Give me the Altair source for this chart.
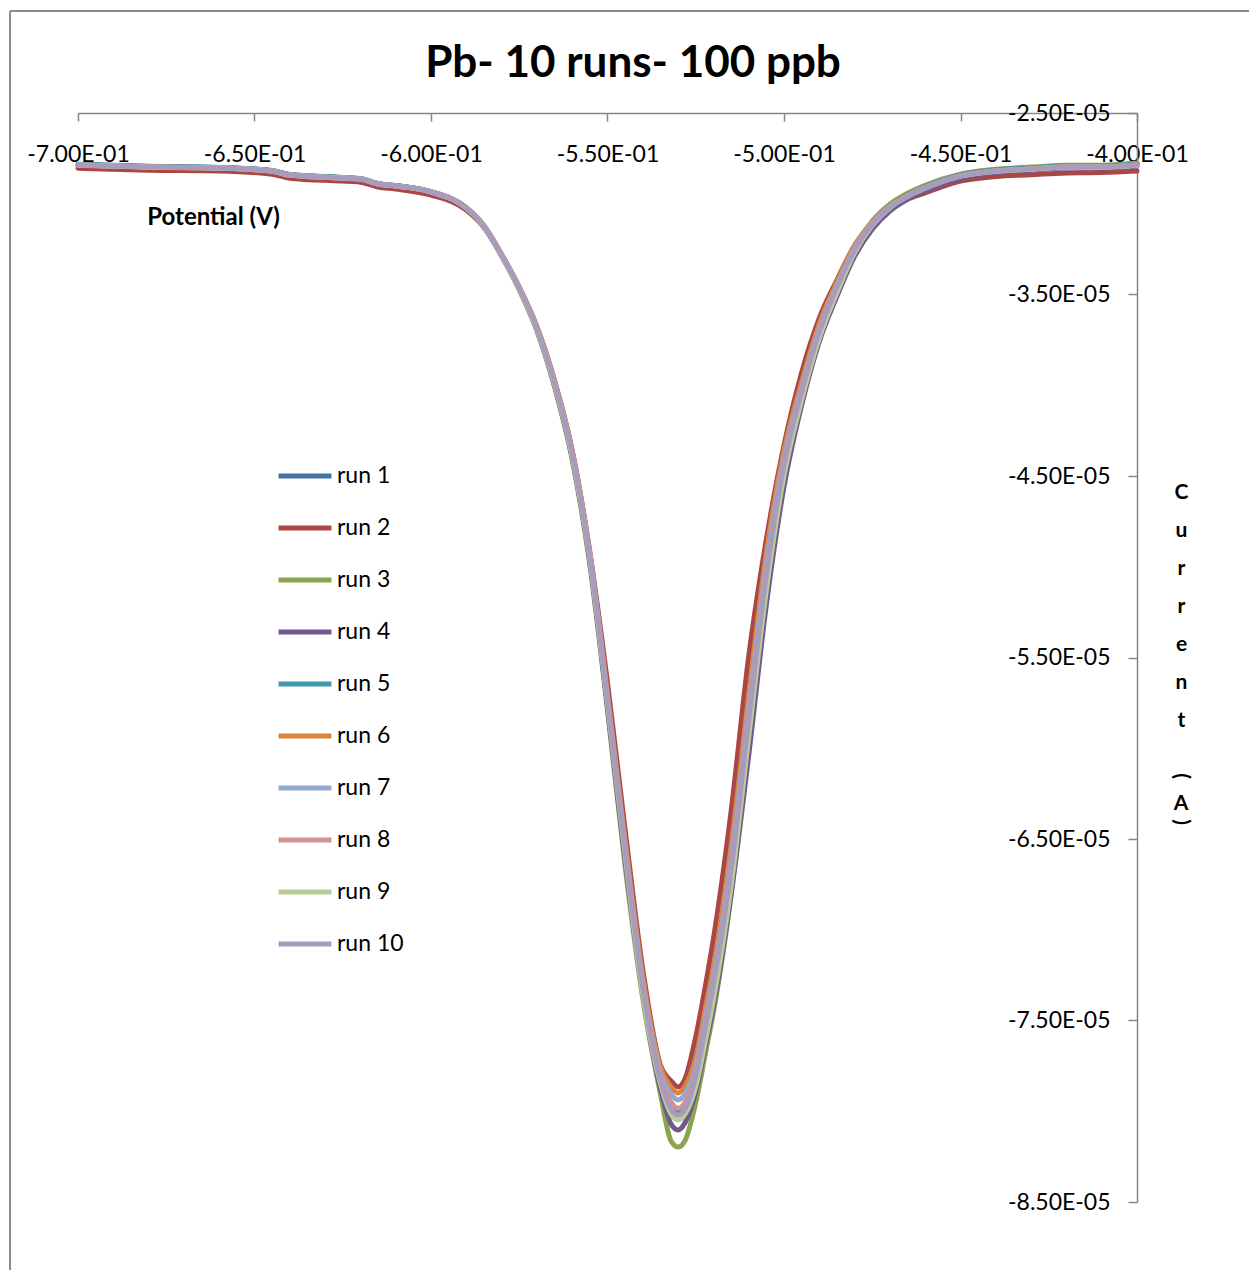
import altair as alt
import pandas as pd

# Potential sweep (V) shared by all runs
potential_v = [
    -0.700, -0.680, -0.660, -0.645, -0.640, -0.625, -0.620, -0.615, -0.610, -0.600,
    -0.590, -0.585, -0.580, -0.575, -0.570, -0.565, -0.560, -0.555, -0.550, -0.545,
    -0.540, -0.535, -0.532, -0.530, -0.528, -0.525, -0.522, -0.520, -0.515, -0.510,
    -0.505, -0.500, -0.495, -0.490, -0.485, -0.480, -0.475, -0.470, -0.465, -0.460,
    -0.450, -0.440, -0.430, -0.420, -0.410, -0.400,
]

# Measured current for each run (microamps)
run1 = [
    -27.83, -27.94, -28.00, -28.17, -28.39, -28.55, -28.61, -28.88, -29.00, -29.33,
    -30.22, -31.22, -32.81, -34.63, -36.84, -39.86, -43.76, -49.40, -57.25, -65.50,
    -73.07, -78.23, -79.67, -80.00, -79.67, -77.99, -75.01, -72.96, -66.63, -58.35,
    -50.38, -44.33, -40.31, -37.01, -34.58, -32.48, -31.05, -30.10, -29.50, -29.06,
    -28.40, -28.13, -28.02, -27.92, -27.91, -27.80,
]
run2 = [
    -28.04, -28.15, -28.20, -28.37, -28.59, -28.75, -28.81, -29.08, -29.19, -29.52,
    -30.35, -31.30, -32.85, -34.62, -36.80, -39.75, -43.60, -49.20, -56.40, -64.50,
    -72.20, -77.45, -78.33, -78.66, -78.20, -75.90, -72.80, -70.50, -63.50, -54.95,
    -48.50, -43.30, -39.30, -36.30, -34.20, -32.30, -31.10, -30.25, -29.75, -29.40,
    -28.75, -28.50, -28.40, -28.30, -28.28, -28.20,
]
run3 = [
    -27.85, -27.96, -28.01, -28.18, -28.40, -28.56, -28.62, -28.89, -29.00, -29.34,
    -30.24, -31.26, -32.88, -34.74, -37.00, -40.10, -44.10, -49.90, -57.90, -66.50,
    -73.80, -79.05, -81.64, -81.97, -81.60, -79.53, -76.55, -74.55, -68.10, -59.50,
    -51.30, -44.70, -40.40, -37.00, -34.50, -32.40, -30.95, -30.02, -29.42, -28.98,
    -28.37, -28.10, -27.98, -27.88, -27.88, -27.76,
]
run4 = [
    -27.86, -27.97, -28.02, -28.19, -28.41, -28.57, -28.63, -28.90, -29.01, -29.34,
    -30.24, -31.25, -32.86, -34.70, -36.95, -40.02, -44.00, -49.75, -57.75, -66.20,
    -73.50, -78.75, -80.70, -81.03, -80.62, -78.93, -76.15, -74.25, -68.10, -60.40,
    -52.10, -45.60, -41.10, -37.60, -35.10, -32.90, -31.40, -30.40, -29.75, -29.30,
    -28.60, -28.28, -28.15, -28.03, -28.03, -27.92,
]
run5 = [
    -27.84, -27.95, -28.00, -28.18, -28.40, -28.56, -28.62, -28.89, -29.00, -29.34,
    -30.23, -31.23, -32.82, -34.65, -36.86, -39.90, -43.81, -49.48, -57.36, -65.62,
    -73.22, -78.28, -79.77, -80.10, -79.77, -78.04, -75.06, -73.01, -66.68, -58.40,
    -50.40, -44.35, -40.33, -37.03, -34.60, -32.50, -31.06, -30.12, -29.51, -29.07,
    -28.41, -28.14, -28.03, -27.92, -27.92, -27.81,
]
run6 = [
    -27.87, -27.98, -28.03, -28.20, -28.42, -28.58, -28.64, -28.91, -29.02, -29.35,
    -30.22, -31.20, -32.78, -34.58, -36.76, -39.75, -43.62, -49.25, -57.00, -65.10,
    -72.60, -77.55, -78.66, -78.99, -78.60, -77.03, -74.05, -72.05, -65.40, -57.10,
    -49.20, -43.58, -39.81, -36.61, -34.30, -32.30, -31.00, -30.12, -29.53, -29.10,
    -28.45, -28.18, -28.07, -27.96, -27.96, -27.85,
]
run7 = [
    -27.86, -27.97, -28.02, -28.19, -28.41, -28.57, -28.63, -28.90, -29.01, -29.34,
    -30.22, -31.22, -32.80, -34.62, -36.82, -39.83, -43.72, -49.37, -57.20, -65.40,
    -72.90, -77.85, -79.05, -79.38, -79.03, -77.53, -74.55, -72.55, -66.10, -57.80,
    -49.80, -43.98, -40.11, -36.86, -34.50, -32.45, -31.06, -30.15, -29.55, -29.11,
    -28.46, -28.19, -28.08, -27.97, -27.97, -27.86,
]
run8 = [
    -27.88, -27.99, -28.04, -28.21, -28.43, -28.59, -28.65, -28.92, -29.03, -29.36,
    -30.24, -31.23, -32.82, -34.63, -36.84, -39.86, -43.76, -49.42, -57.28, -65.50,
    -73.07, -78.08, -79.50, -79.83, -79.50, -77.84, -74.86, -72.86, -66.53, -58.20,
    -50.20, -44.23, -40.26, -36.99, -34.58, -32.51, -31.09, -30.16, -29.56, -29.12,
    -28.47, -28.20, -28.09, -27.98, -27.98, -27.87,
]
run9 = [
    -27.87, -27.98, -28.03, -28.20, -28.42, -28.58, -28.64, -28.91, -29.02, -29.35,
    -30.24, -31.25, -32.86, -34.70, -36.93, -39.98, -43.92, -49.62, -57.55, -65.90,
    -73.57, -78.48, -80.15, -80.48, -80.15, -78.64, -75.86, -73.86, -67.63, -59.40,
    -51.30, -44.98, -40.81, -37.41, -34.90, -32.70, -31.20, -30.22, -29.60, -29.15,
    -28.48, -28.21, -28.10, -27.99, -27.99, -27.88,
]
run10 = [
    -27.87, -27.98, -28.03, -28.20, -28.42, -28.58, -28.64, -28.91, -29.02, -29.35,
    -30.23, -31.23, -32.82, -34.64, -36.85, -39.88, -43.79, -49.46, -57.34, -65.61,
    -73.21, -78.28, -79.88, -80.21, -79.88, -78.06, -75.08, -73.04, -66.71, -58.44,
    -50.45, -44.39, -40.37, -37.07, -34.59, -32.55, -31.12, -30.18, -29.57, -29.13,
    -28.47, -28.20, -28.09, -27.98, -27.98, -27.87,
]

run_names = ["run 1", "run 2", "run 3", "run 4", "run 5",
             "run 6", "run 7", "run 8", "run 9", "run 10"]
run_values = [run1, run2, run3, run4, run5, run6, run7, run8, run9, run10]
run_colors = ["#4572A7", "#AA4643", "#89A54E", "#71588F", "#4198AF",
              "#DB843D", "#93A9CF", "#D19392", "#B9CD96", "#A99BBD"]

x_ticks = [-0.70, -0.65, -0.60, -0.55, -0.50, -0.45, -0.40]
y_ticks = [-8.5e-5, -7.5e-5, -6.5e-5, -5.5e-5, -4.5e-5, -3.5e-5, -2.5e-5]

chart_title = "Pb- 10 runs- 100 ppb"

rows = []
for name, values in zip(run_names, run_values):
    for order, (v, i_ua) in enumerate(zip(potential_v, values)):
        rows.append({"run": name, "potential": v, "current": i_ua * 1e-6, "k": order})
df = pd.DataFrame(rows)

W, H = 1059, 1089
FONT = "Lato"
# scientific labels such as -2.50E-05, written with a plain hyphen
sci_label = ("replace(replace(replace(upper(format(datum.value, '.2e')), "
             "'\u2212', '-'), '\u2212', '-'), 'E-', 'E-0')")

lines = alt.Chart(df).mark_line(
    strokeWidth=5, strokeCap="round", strokeJoin="round", interpolate="monotone"
).encode(
    x=alt.X(
        "potential:Q",
        scale=alt.Scale(domain=[-0.7, -0.4], nice=False, zero=False),
        axis=alt.Axis(
            orient="bottom", offset=-H, values=x_ticks, labelExpr=sci_label,
            grid=False, tickSize=8, tickColor="#868686", domainColor="#868686",
            domainWidth=1.5, tickWidth=1.5,
            labelFont=FONT, labelFontSize=23, labelColor="#000000",
            labelPadding=22, labelFlush=False, labelOverlap=False,
            title="Potential (V)", titleFont=FONT, titleFontSize=24,
            titleFontWeight="bold", titleColor="#000000",
            titleX=135, titleY=104, titleAlign="center", titleBaseline="middle",
            titleAngle=0,
        ),
    ),
    y=alt.Y(
        "current:Q",
        scale=alt.Scale(domain=[-8.5e-5, -2.5e-5], nice=False, zero=False),
        axis=alt.Axis(
            orient="left", offset=-W, values=y_ticks, labelExpr=sci_label,
            grid=False, tickSize=9, tickColor="#868686", domainColor="#868686",
            domainWidth=1.5, tickWidth=1.5,
            labelFont=FONT, labelFontSize=23, labelColor="#000000",
            labelPadding=18, labelFlush=False, labelOverlap=False,
            labelAlign="right", labelBaseline="middle",
            title=["C", "u", "r", "r", "e", "n", "t"], titleFont=FONT,
            titleFontSize=21, titleFontWeight="bold", titleColor="#000000",
            titleAngle=0, titleX=44, titleY=385, titleAlign="center",
            titleBaseline="alphabetic", titleLineHeight=38,
        ),
    ),
    color=alt.Color(
        "run:N",
        scale=alt.Scale(domain=run_names, range=run_colors),
        sort=run_names,
        legend=alt.Legend(
            title=None, orient="none", legendX=198, legendY=334,
            symbolType="stroke", symbolSize=2800, symbolStrokeWidth=5,
            labelFont=FONT, labelFontSize=23, labelColor="#000000",
            labelOffset=3, rowPadding=11, padding=0,
        ),
    ),
    order=alt.Order("k:Q"),
)

# Chart heading
heading = alt.Chart(pd.DataFrame({"t": [chart_title]})).mark_text(
    font=FONT, fontSize=44, fontWeight="bold", color="#000000",
    align="center", baseline="middle",
).encode(text="t:N", x=alt.value(555), y=alt.value(-49))

# Remaining stacked glyphs of the vertical axis title: rotated brackets around "A"
unit_glyphs = pd.DataFrame({"g": ["(", "A", ")"], "a": [90, 0, 90], "yy": [663, 691, 709]})
unit_title = alt.Chart(unit_glyphs).mark_text(
    font=FONT, fontSize=21, fontWeight="bold", color="#000000",
    align="center", baseline="middle",
).encode(
    text="g:N", angle=alt.Angle("a:Q", scale=None),
    x=alt.value(1103), y=alt.Y("yy:Q", scale=None),
)

# Outer chart frame (top and left edges)
frame_top = alt.Chart(pd.DataFrame({"f": [0]})).mark_rule(
    color="#8c8c8c", strokeWidth=2
).encode(x=alt.value(-68), x2=alt.value(1180), y=alt.value(-102))
frame_left = alt.Chart(pd.DataFrame({"f": [0]})).mark_rule(
    color="#8c8c8c", strokeWidth=2
).encode(x=alt.value(-68), y=alt.value(-102), y2=alt.value(1165))

chart = alt.layer(frame_top, frame_left, lines, heading, unit_title).properties(
    width=W, height=H,
    padding={"left": 78, "top": 113, "right": 112, "bottom": 68},
    autosize=alt.AutoSizeParams(type="none"),
    background="#ffffff",
).configure_view(stroke=None)

chart.save("out.html", embed_options={"renderer": "svg", "actions": False})
